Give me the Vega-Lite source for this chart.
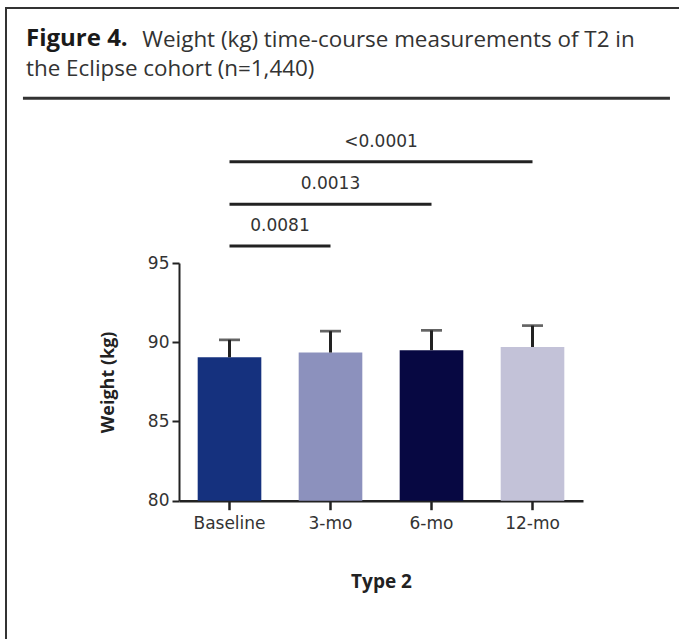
{
  "$schema": "https://vega.github.io/schema/vega-lite/v6.json",
  "width": 690,
  "height": 660,
  "autosize": {"type": "none"},
  "padding": {"left": 6, "top": 8, "right": 0, "bottom": 0},
  "background": "white",
  "config": {
    "font": "Open Sans",
    "view": {"stroke": "#333333", "strokeWidth": 2}
  },
  "title": {
    "text": "Figure 4.",
    "subtitle": ["\u200b\u00a0\u00a0\u00a0\u00a0\u00a0\u00a0\u00a0\u00a0\u00a0\u00a0\u00a0\u00a0\u00a0\u00a0\u00a0\u00a0\u00a0\u00a0\u00a0\u00a0Weight (kg) time-course measurements of T2 in", "the Eclipse cohort (n=1,440)"],
    "orient": "top",
    "anchor": "start",
    "frame": "group",
    "offset": -72,
    "dx": 20,
    "font": "Open Sans",
    "fontSize": 24,
    "fontWeight": "bold",
    "color": "#1a1a1a",
    "subtitleFont": "Open Sans",
    "subtitleFontSize": 22.4,
    "subtitleColor": "#333333",
    "subtitleLineHeight": 29,
    "subtitlePadding": -22.3
  },
  "datasets": {
    "bars": [
      {"time": "Baseline", "mean": 89.05, "upper": 90.15},
      {"time": "3-mo", "mean": 89.35, "upper": 90.7},
      {"time": "6-mo", "mean": 89.5, "upper": 90.75},
      {"time": "12-mo", "mean": 89.7, "upper": 91.05}
    ],
    "brackets": [
      {"from": "Baseline", "to": "3-mo", "mid": 1.0, "level": 96.07, "p": "0.0081"},
      {"from": "Baseline", "to": "6-mo", "mid": 1.5, "level": 98.7, "p": "0.0013"},
      {"from": "Baseline", "to": "12-mo", "mid": 2.0, "level": 101.39, "p": "<0.0001"}
    ]
  },
  "layer": [
    {
      "layer": [
        {
          "data": {"name": "bars"},
          "mark": {"type": "bar"},
          "encoding": {
            "x": {
              "field": "time", "type": "nominal", "sort": null,
              "scale": {"type": "band", "domain": ["Baseline", "3-mo", "6-mo", "12-mo"], "range": [173, 577], "paddingInner": 0.37, "paddingOuter": 0.185},
              "axis": {"title": "Type 2", "labelAngle": 0, "offset": -167.3, "domainColor": "#222222", "domainWidth": 2.5, "tickColor": "#222222", "tickWidth": 2.5, "tickSize": 9, "labelPadding": 6, "labelFontSize": 17, "labelColor": "#333333", "labelFont": "DejaVu Sans", "titleFont": "Open Sans", "titleFontSize": 19, "titleFontWeight": "bold", "titleColor": "#222222", "titlePadding": 41, "grid": false}
            },
            "y": {
              "field": "mean", "type": "quantitative",
              "scale": {"domain": [80, 95], "range": [492.7, 255], "zero": false, "nice": false},
              "axis": {"title": "Weight (kg)", "values": [80, 85, 90, 95], "offset": -173, "domainColor": "#222222", "domainWidth": 2, "tickColor": "#222222", "tickWidth": 2, "tickSize": 7, "labelPadding": 3, "labelFontSize": 17, "labelColor": "#333333", "labelFont": "DejaVu Sans", "titleFont": "Open Sans", "titleFontSize": 18, "titleFontWeight": "bold", "titleColor": "#222222", "titlePadding": 30, "grid": false}
            },
            "y2": {"datum": 80},
            "color": {
              "field": "time", "type": "nominal",
              "scale": {"domain": ["Baseline", "3-mo", "6-mo", "12-mo"], "range": ["#15317e", "#8c91bd", "#070842", "#c3c2d8"]},
              "legend": null
            }
          }
        },
        {
          "data": {"name": "bars"},
          "mark": {"type": "rule", "color": "#222222", "strokeWidth": 3},
          "encoding": {
            "x": {"field": "time", "type": "nominal"},
            "y": {"field": "mean", "type": "quantitative", "scale": {"domain": [80, 95], "range": [492.7, 255], "zero": false, "nice": false}},
            "y2": {"field": "upper"}
          }
        },
        {
          "data": {"name": "bars"},
          "mark": {"type": "tick", "color": "#222222", "size": 21, "thickness": 2.7},
          "encoding": {
            "x": {"field": "time", "type": "nominal"},
            "y": {"field": "upper", "type": "quantitative", "scale": {"domain": [80, 95], "range": [492.7, 255], "zero": false, "nice": false}}
          }
        },
        {
          "data": {"name": "brackets"},
          "mark": {"type": "rule", "color": "#222222", "strokeWidth": 3},
          "encoding": {
            "x": {"field": "from", "type": "nominal"},
            "x2": {"field": "to"},
            "y": {"field": "level", "type": "quantitative", "scale": {"domain": [80, 95], "range": [492.7, 255], "zero": false, "nice": false}}
          }
        }
      ]
    },
    {
      "layer": [
        {
          "data": {"name": "brackets"},
          "mark": {"type": "text", "dy": -20, "fontSize": 17, "color": "#333333", "baseline": "middle", "font": "DejaVu Sans"},
          "encoding": {
            "x": {"field": "mid", "type": "quantitative", "scale": {"domain": [0, 4], "range": [173, 577], "zero": false, "nice": false}, "axis": null},
            "y": {"field": "level", "type": "quantitative", "scale": {"domain": [80, 95], "range": [492.7, 255], "zero": false, "nice": false}},
            "text": {"field": "p"}
          }
        },
        {
          "data": {"values": [{}]},
          "mark": {"type": "rule", "color": "#333333", "strokeWidth": 3},
          "encoding": {
            "x": {"datum": -1.545, "type": "quantitative", "scale": {"domain": [0, 4], "range": [173, 577], "zero": false, "nice": false}, "axis": null},
            "x2": {"datum": 4.861},
            "y": {"datum": 105.39, "type": "quantitative", "scale": {"domain": [80, 95], "range": [492.7, 255], "zero": false, "nice": false}}
          }
        }
      ]
    }
  ],
  "resolve": {"scale": {"x": "independent"}}
}
